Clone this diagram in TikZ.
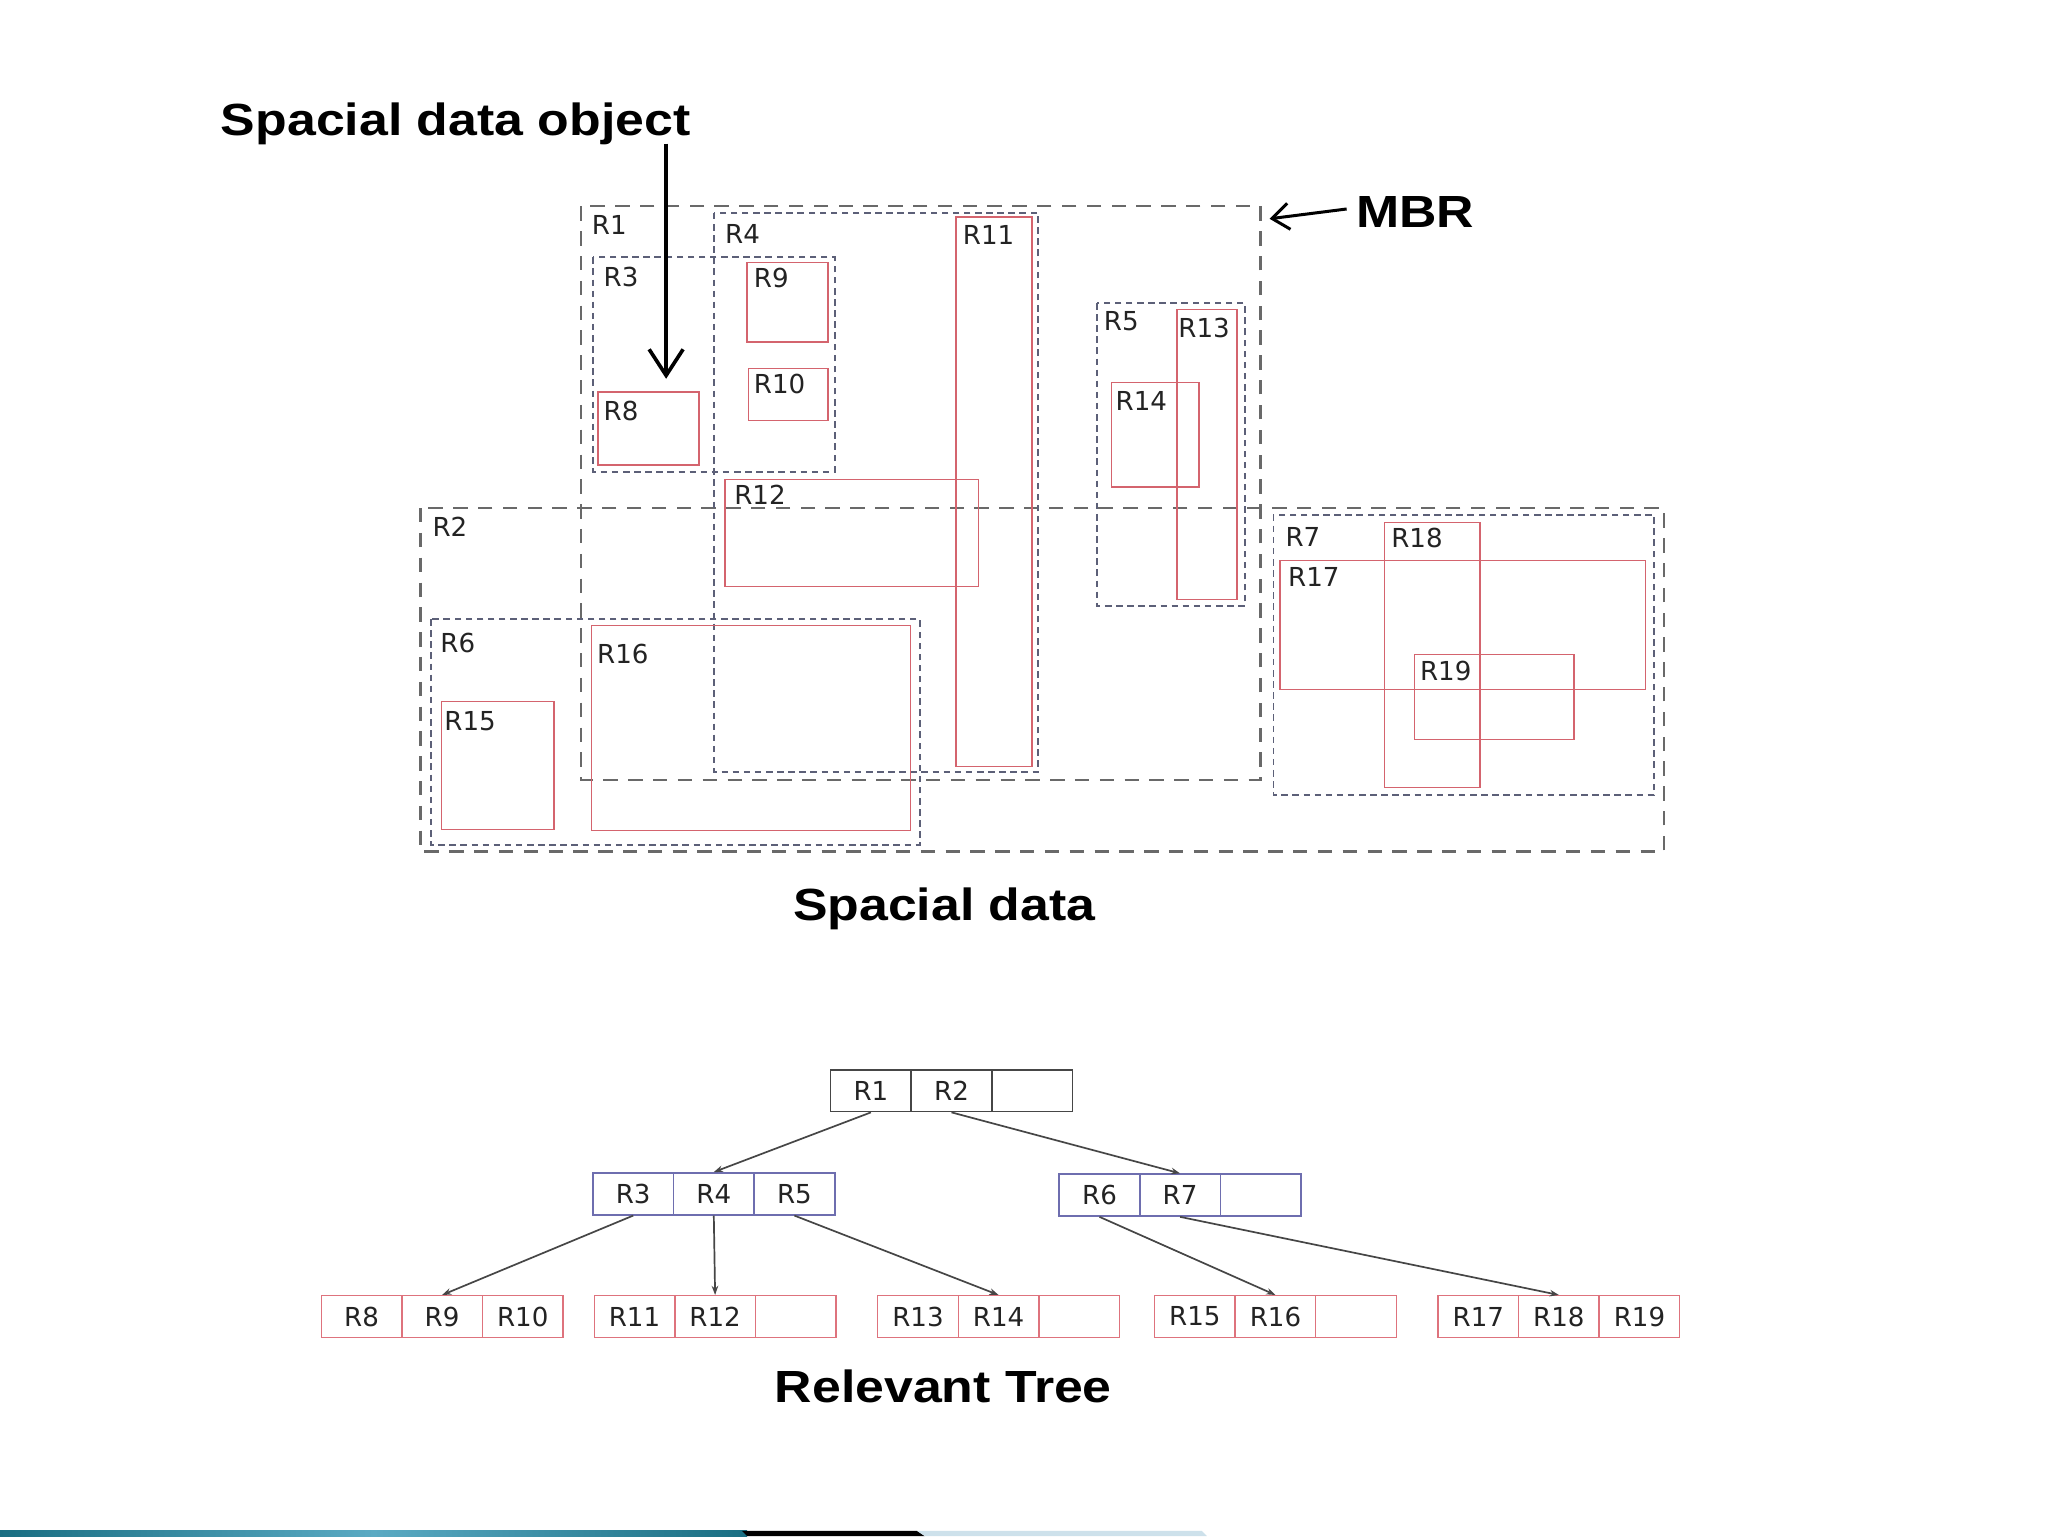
\documentclass[tikz,border=0pt]{standalone}
\usepackage{fontspec}
\setmainfont{DejaVu Sans}
\newfontfamily\titlefont[FakeStretch=1.15]{Liberation Sans}
\usetikzlibrary{arrows.meta}
\definecolor{redline}{RGB}{212,100,110}
\definecolor{bigdashc}{RGB}{105,105,105}
\definecolor{smalldashc}{RGB}{92,96,120}
\definecolor{bluecell}{RGB}{110,110,175}
\definecolor{rootcell}{RGB}{70,70,70}
\definecolor{leafcell}{RGB}{222,115,125}
\definecolor{labeltext}{RGB}{35,35,35}
\definecolor{stripteal}{RGB}{25,110,130}
\definecolor{striptealL}{RGB}{90,170,195}
\definecolor{stripblue}{RGB}{205,225,235}
\begin{document}
\begin{tikzpicture}[x=1pt,y=-1pt,
 bigdash/.style={draw=bigdashc, line width=1.7pt, dash pattern=on 11pt off 8pt},
 smalldash/.style={draw=smalldashc, line width=1.5pt, dash pattern=on 5pt off 3.5pt},
 redrect/.style={draw=redline, line width=1.1pt},
 rlabel/.style={anchor=west, inner sep=0pt, font=\fontsize{20}{24}\selectfont, text=labeltext},
 title/.style={anchor=base west, inner sep=0pt, font=\titlefont\bfseries\fontsize{34.5}{40}\selectfont},
 cell/.style={draw, line width=1.3pt, minimum width=61.7pt, minimum height=32pt, inner sep=0pt, font=\fontsize{20}{24}\selectfont, text=labeltext},
 rootc/.style={cell, draw=rootcell},
 midc/.style={cell, draw=bluecell},
 leafc/.style={cell, draw=leafcell, line width=1.1pt},
 treearrow/.style={draw=rootcell, line width=1.3pt, -{Stealth[length=7pt,width=5pt]}},
 callout/.style={draw=black, line width=2.8pt}
]
\fill[white] (0,0) rectangle (1568,1176);
\useasboundingbox (0,0) rectangle (1568,1176);

% ---------- spatial data: MBR rectangles ----------
\draw[bigdash] (445,158) rectangle (965,597);
\draw[bigdash] (322,389) rectangle (1274,652);
\draw[smalldash] (454,197) rectangle (639,361);
\draw[smalldash] (547,163) rectangle (795,591);
\draw[smalldash] (840,232) rectangle (953,464);
\draw[smalldash] (330,474) rectangle (704,647);
\draw[smalldash] (975,394) rectangle (1266,609);
% ---------- spatial data objects ----------
\draw[redrect] (458,300) rectangle (535,356);
\draw[redrect] (572,201) rectangle (634,262);
\draw[redrect] (573,282) rectangle (634,322);
\draw[redrect] (732,166) rectangle (790,587);
\draw[redrect] (555,367) rectangle (749,449);
\draw[redrect] (901,237) rectangle (947,459);
\draw[redrect] (851,293) rectangle (918,373);
\draw[redrect] (338,537) rectangle (424,635);
\draw[redrect] (453,479) rectangle (697,636);
\draw[redrect] (980,429) rectangle (1260,528);
\draw[redrect] (1060,400) rectangle (1133,603);
\draw[redrect] (1083,501) rectangle (1205,566);

% ---------- labels ----------
\node[rlabel] (lR1)  at (453,172) {R1};
\node[rlabel] (lR2)  at (331,403) {R2};
\node[rlabel] (lR3)  at (462,212) {R3};
\node[rlabel] (lR4)  at (555,179) {R4};
\node[rlabel] (lR5)  at (845,246) {R5};
\node[rlabel] (lR6)  at (337,492) {R6};
\node[rlabel] (lR7)  at (984,411) {R7};
\node[rlabel] (lR8)  at (462,315) {R8};
\node[rlabel] (lR9)  at (577,213) {R9};
\node[rlabel] (lR10) at (577,294) {R10};
\node[rlabel] (lR11) at (737,180) {R11};
\node[rlabel] (lR12) at (562,379) {R12};
\node[rlabel] (lR13) at (902,251) {R13};
\node[rlabel] (lR14) at (854,307) {R14};
\node[rlabel] (lR15) at (340,552) {R15};
\node[rlabel] (lR16) at (457,501) {R16};
\node[rlabel] (lR17) at (986,442) {R17};
\node[rlabel] (lR18) at (1065,412) {R18};
\node[rlabel] (lR19) at (1087,514) {R19};

% ---------- titles and callouts ----------
\node[title] (sdo) at (169,103.5) {Spacial data object};
\node[title] (mbr) at (1038,174) {MBR};
\node[title] (sd) at (607,705) {Spacial data};
\node[title] (rt) at (593,1074) {Relevant Tree};

\coordinate (sdoTail) at (510,110);
\coordinate (sdoTip) at (510,290);
\draw[callout, -{Straight Barb[length=20pt,width=26pt]}] (sdoTail) -- (sdoTip);
\coordinate (mbrTail) at (1031,160);
\coordinate (mbrTip) at (972,167.5);
\draw[line width=2.3pt, -{Straight Barb[length=13pt,width=20pt]}] (mbrTail) -- (mbrTip);

% ---------- tree ----------
\node[rootc] (cR1) at (666.8,835) {R1};
\node[rootc] (cR2) at (728.5,835) {R2};
\node[rootc] (cRa) at (790.2,835) {};

\node[midc] (cR3) at (484.8,914) {R3};
\node[midc] (cR4) at (546.5,914) {R4};
\node[midc] (cR5) at (608.2,914) {R5};

\node[midc] (cR6) at (841.8,915) {R6};
\node[midc] (cR7) at (903.5,915) {R7};
\node[midc] (cRb) at (965.2,915) {};

\node[leafc] (cR8)  at (276.8,1008) {R8};
\node[leafc] (cR9)  at (338.5,1008) {R9};
\node[leafc] (cR10) at (400.2,1008) {R10};

\node[leafc] (cR11) at (485.8,1008) {R11};
\node[leafc] (cR12) at (547.5,1008) {R12};
\node[leafc] (cRc)  at (609.2,1008) {};

\node[leafc] (cR13) at (702.8,1008) {R13};
\node[leafc] (cR14) at (764.5,1008) {R14};
\node[leafc] (cRd)  at (826.2,1008) {};

\node[leafc] (cR15) at (914.8,1008) {R15};
\node[leafc] (cR16) at (976.5,1008) {R16};
\node[leafc] (cRe)  at (1038.2,1008) {};

\node[leafc] (cR17) at (1131.8,1008) {R17};
\node[leafc] (cR18) at (1193.5,1008) {R18};
\node[leafc] (cR19) at (1255.2,1008) {R19};

\draw[treearrow] (cR1.south) -- (cR4.north);
\draw[treearrow] (cR2.south) -- (cR7.north);
\draw[treearrow] (cR3.south) -- (cR9.north);
\draw[treearrow] (cR4.south) -- (cR12.north);
\draw[treearrow] (cR5.south) -- (cR14.north);
\draw[treearrow] (cR6.south) -- (cR16.north);
\draw[treearrow] (cR7.south) -- (cR18.north);

% ---------- bottom strip ----------
\shade[left color=stripteal, right color=stripteal, middle color=striptealL] (0,1172) rectangle (572,1176);
\fill[black] (568,1172) -- (702,1172) -- (708,1176) -- (572,1176) -- cycle;
\fill[stripblue] (702,1172) -- (920,1172) -- (924,1176) -- (708,1176) -- cycle;
\end{tikzpicture}
\end{document}
